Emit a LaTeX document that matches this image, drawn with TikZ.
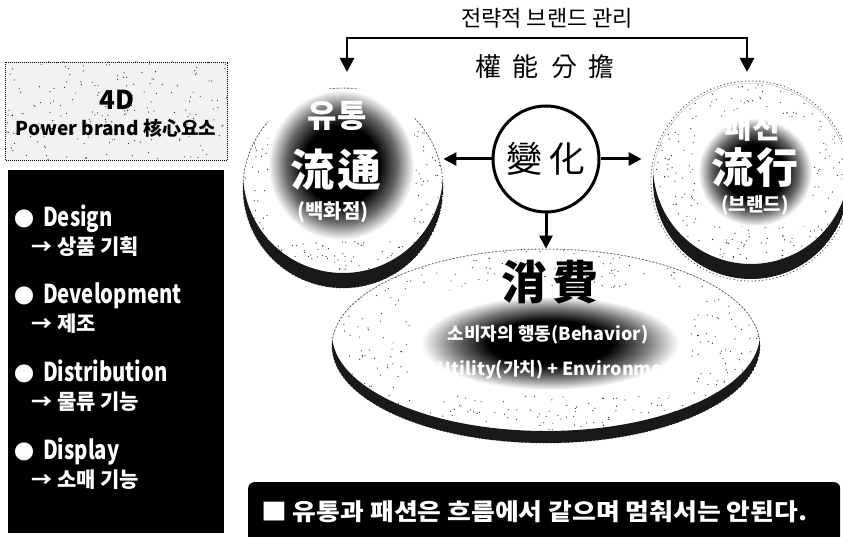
\documentclass[tikz,border=0pt]{standalone}
\usepackage{fontspec}
\usepackage{graphicx}
\usetikzlibrary{arrows.meta,shapes.geometric}
\newfontfamily\kr{Noto Sans CJK KR}
\newcommand{\fs}[1]{\fontsize{#1}{#1}\selectfont}
\newcommand{\cnd}[2]{\scalebox{#1}[1]{#2}}
\pgfdeclareradialshading{darkpatch}{\pgfpoint{0bp}{0bp}}{color(0bp)=(black); color(13bp)=(black); color(19bp)=(black!60); color(25bp)=(white); color(50bp)=(white)}
\pgfdeclareradialshading{darkpatchb}{\pgfpoint{0bp}{0bp}}{color(0bp)=(black); color(11bp)=(black); color(17bp)=(black!55); color(23bp)=(white); color(50bp)=(white)}
% speckles: center x, center y, x radius, y radius, count
\newcommand{\myspecks}[5]{%
  \foreach \i in {1,...,#5}{%
    \pgfmathsetmacro\spang{360*rnd}%
    \pgfmathsetmacro\sprr{sqrt(rnd)}%
    \pgfmathsetmacro\spa{#3*\sprr}%
    \pgfmathsetmacro\spb{#4*\sprr}%
    \path (#1,#2) ++(\spang:\spa pt and \spb pt) coordinate (sp);
    \fill[black!85] (sp) circle[radius=0.6pt];
  }}
\tikzset{
  wt/.style={text=white, inner sep=0pt},
  bk/.style={text=black, inner sep=0pt},
  item/.style={anchor=base west, text=white, inner sep=0pt, font=\kr\bfseries},
  disk/.style={circle, minimum size=200pt, inner sep=0pt, fill=white, draw=black!70, line width=0.8pt, dash pattern=on 1.2pt off 2.4pt},
  arr/.style={line width=3pt, -{Triangle[length=13pt,width=13pt]}},
  toparr/.style={line width=2.5pt, {Triangle[length=14pt,width=14pt]}-{Triangle[length=14pt,width=14pt]}},
}
\begin{document}
\begin{tikzpicture}[x=1pt,y=-1pt]
\useasboundingbox (0,0) rectangle (843,537);
\pgfmathsetseed{11}

% ---------- left panel ----------
\node[draw=black, densely dotted, line width=1pt, fill=black!5, minimum width=222pt, minimum height=98pt, anchor=north west, inner sep=0pt] (F) at (5,62) {};
\begin{scope}
  \clip (5,62) rectangle (227,160);
  \myspecks{116}{111}{150}{70}{260}
\end{scope}
\node[bk] (F1) at (117,100) {\kr\bfseries\fs{26}4D};
\node[bk] (F2) at (116,128) {\kr\bfseries\fs{19}Power brand 核心요소};

\node[fill=black, minimum width=216pt, minimum height=363pt, anchor=north west, inner sep=0pt] (P) at (8,170) {};
\node[item] (D1) at (14,227) {{\fs{20}●}\hspace{9pt}\cnd{0.78}{\fs{26}Design}};
\node[item] (D1a) at (31,255) {\fs{21}→ 상품 기획};
\node[item] (D2) at (14,304) {{\fs{20}●}\hspace{9pt}\cnd{0.78}{\fs{26}Development}};
\node[item] (D2a) at (31,331) {\fs{21}→ 제조};
\node[item] (D3) at (14,381) {{\fs{20}●}\hspace{9pt}\cnd{0.78}{\fs{26}Distribution}};
\node[item] (D3a) at (31,409) {\fs{21}→ 물류 기능};
\node[item] (D4) at (14,459) {{\fs{20}●}\hspace{9pt}\cnd{0.78}{\fs{26}Display}};
\node[item] (D4a) at (31,487) {\fs{21}→ 소매 기능};

% ---------- top connector ----------
\node[bk] (T1) at (547,18) {\kr\fs{22}전략적 브랜드 관리};
\node[bk] (T2) at (545,67) {\kr\fs{26}權\hspace{12pt}能\hspace{12pt}分\hspace{12pt}擔};
\coordinate (la) at (347,72);
\coordinate (lt) at (347,38);
\coordinate (rt) at (747,38);
\coordinate (ra) at (747,72);
\draw[toparr] (la) -- (lt) -- (rt) -- (ra);

% ---------- ellipse (consumption) ----------
\node[ellipse, minimum width=428pt, minimum height=194pt, inner sep=0pt, fill=white, draw=black!70, line width=0.8pt, dash pattern=on 1.2pt off 2.4pt] (E) at (546,346) {};
\begin{scope}
  \clip (E.center) ellipse[x radius=214pt, y radius=97pt];
  \myspecks{546}{346}{214}{97}{600}
  \fill[black!90, even odd rule] (E.center) ellipse[x radius=214pt, y radius=97pt]
        ([yshift=12pt]E.center) ellipse[x radius=214pt, y radius=97pt];
\end{scope}
\shade[shading=darkpatchb] (410,292) rectangle (690,394);
\node[bk] (E1) at (550,282) {\kr\bfseries\fs{46}消\hspace{6pt}費};
\node[wt] (E2) at (548,335) {\kr\bfseries\fs{18}소비자의 행동(Behavior)};
\node[wt] (E3) at (560,370) {\kr\bfseries\fs{18}Utility(가치) + Environment};

% ---------- left disk ----------
\node[disk] (L) at (343,188) {};
\begin{scope}
  \clip (L.center) circle[radius=100pt];
  \myspecks{343}{188}{100}{100}{380}
  \fill[black!90, even odd rule] (L.center) circle[radius=100pt]
        ([yshift=15pt]L.center) circle[radius=100pt];
\end{scope}
\shade[shading=darkpatch] (268,90) rectangle (414,240);
\node[wt] (L1) at (337,116) {\kr\bfseries\fs{32}유통};
\node[wt] (L2) at (336,170) {\kr\bfseries\fs{44}流\hspace{4pt}通};
\node[wt] (L3) at (333,212) {\kr\bfseries\fs{20}(백화점)};

% ---------- right disk ----------
\node[disk] (R) at (751,181) {};
\begin{scope}
  \clip (R.center) circle[radius=98pt];
  \myspecks{751}{181}{98}{98}{380}
  \fill[black!90, even odd rule] (R.center) circle[radius=98pt]
        ([yshift=15pt]R.center) circle[radius=98pt];
\end{scope}
\shade[shading=darkpatch] (698,118) rectangle (812,226);
\node[wt] (R1) at (752,127) {\kr\bfseries\fs{30}패션};
\node[wt] (R2) at (755,168) {\kr\bfseries\fs{42}流\hspace{4pt}行};
\node[wt] (R3) at (755,205) {\kr\bfseries\fs{19}(브랜드)};

% ---------- centre circle ----------
\node[circle, draw=black, line width=3pt, fill=white, minimum size=106pt, inner sep=0pt] (C) at (546,159) {\kr\fs{36}變\hspace{7pt}化};
\draw[arr] (C.west) -- (C.west -| L.east);
\draw[arr, shorten >=9pt] (C.east) -- (C.east -| R.west);
\draw[arr] (C.south) -- (C.south |- E.north);

% ---------- bottom banner ----------
\node[fill=black, rounded corners=6pt, minimum width=592pt, minimum height=66pt, anchor=north west, inner sep=0pt] (B) at (248,482) {};
\node[wt, anchor=west] (B1) at (261,512) {\kr\bfseries\cnd{1.1}{\fs{23.5}■ 유통과 패션은 흐름에서 같으며 멈춰서는 안된다.}};
\end{tikzpicture}
\end{document}
